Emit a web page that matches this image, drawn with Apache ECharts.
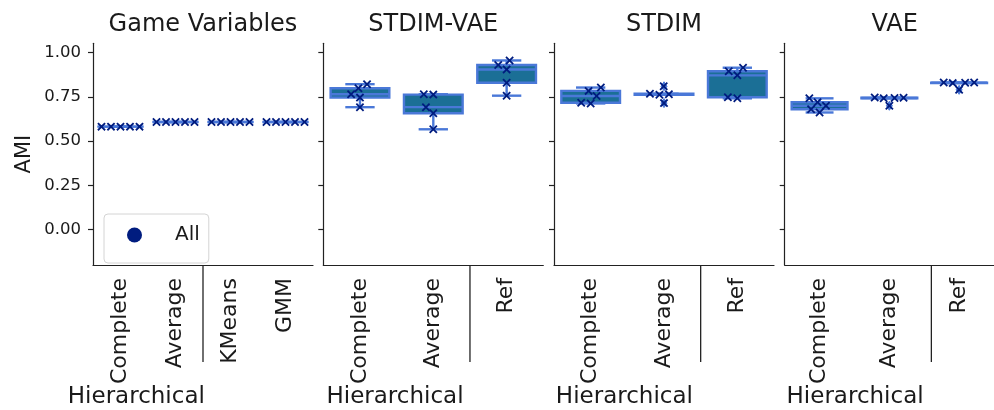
<!DOCTYPE html>
<html><head><meta charset="utf-8">
<script src="https://cdn.jsdelivr.net/npm/echarts@6/dist/echarts.min.js"></script>
<style>html,body{margin:0;padding:0;background:#fff}#c{width:994px;height:410px}</style>
</head><body><div id="c"></div>
<script>
// ---------------- data ----------------
const panelTitles = ['Game Variables', 'STDIM-VAE', 'STDIM', 'VAE'];
const catsGV = ['Complete', 'Average', 'KMeans', 'GMM'];
const catsRep = ['Complete', 'Average', 'Ref'];
const hierarchicalCount = 2;
const groupLabel = 'Hierarchical';
const yTicks = [0, 0.25, 0.5, 0.75, 1.0];
const seriesName = 'All';
const yAxisName = 'AMI';

// AMI values (5 seeds per method)
const gvComplete = [0.582, 0.582, 0.582, 0.582, 0.582];
const gvAverage  = [0.608, 0.608, 0.608, 0.608, 0.608];
const gvKMeans   = [0.608, 0.608, 0.608, 0.608, 0.608];
const gvGMM      = [0.608, 0.608, 0.608, 0.608, 0.608];

const svComplete = [0.692, 0.746, 0.765, 0.799, 0.822];
const svAverage  = [0.567, 0.658, 0.692, 0.763, 0.765];
const svRef      = [0.757, 0.830, 0.905, 0.930, 0.956];

const stComplete = [0.713, 0.717, 0.755, 0.784, 0.803];
const stAverage  = [0.715, 0.762, 0.765, 0.768, 0.810];
const stRef      = [0.742, 0.748, 0.872, 0.895, 0.915];

const vaComplete = [0.662, 0.680, 0.700, 0.720, 0.742];
const vaAverage  = [0.700, 0.742, 0.744, 0.745, 0.747];
const vaRef      = [0.790, 0.828, 0.830, 0.831, 0.832];

const panelCats = [catsGV, catsRep, catsRep, catsRep];
const panelValues = [
  [gvComplete, gvAverage, gvKMeans, gvGMM],
  [svComplete, svAverage, svRef],
  [stComplete, stAverage, stRef],
  [vaComplete, vaAverage, vaRef]
];

// ---------------- layout / style ----------------
const FONT = 'DejaVu Sans';
const TEXT = '#1a1a1a';
const AXIS = '#222';
const EDGE = '#4a78d8';
const FILL = '#1b6f96';
const MARK = '#001c7f';
const Y_MIN = -0.2, Y_MAX = 1.053;
const GRID_TOP = 43.3, GRID_H = 221.7, GRID_W = 220;
const GRID_LEFTS = [93, 323.3, 554, 784.7];
const groupLabelFrac = [0.197, 0.326, 0.32, 0.32];
const SWARM_D = 9.5;

function quantile(sorted, p) {
  const pos = (sorted.length - 1) * p;
  const lo = Math.floor(pos), hi = Math.ceil(pos);
  return sorted[lo] + (sorted[hi] - sorted[lo]) * (pos - lo);
}
function boxStats(vals) {
  const s = vals.slice().sort((a, b) => a - b);
  const q1 = quantile(s, 0.25), med = quantile(s, 0.5), q3 = quantile(s, 0.75);
  const iqr = q3 - q1;
  const inside = s.filter(v => v >= q1 - 1.5 * iqr - 1e-12 && v <= q3 + 1.5 * iqr + 1e-12);
  const wlo = Math.min(...inside), whi = Math.max(...inside);
  const fliers = s.filter(v => v < q1 - 1.5 * iqr - 1e-12 || v > q3 + 1.5 * iqr + 1e-12);
  return { q1, med, q3, wlo, whi, fliers };
}
function swarm(vals, pxPerY, d) {
  const idx = vals.map((v, k) => k).sort((a, b) => vals[a] - vals[b]);
  const placed = [], out = new Array(vals.length);
  for (const k of idx) {
    const y = vals[k] * pxPerY;
    const cands = [0];
    for (const p of placed) {
      const dy = Math.abs(p.y - y);
      if (dy < d) { const dx = Math.sqrt(d * d - dy * dy); cands.push(p.x - dx, p.x + dx); }
    }
    cands.sort((a, b) => (Math.abs(a) - Math.abs(b)) || (a - b));
    let x = 0;
    for (const c of cands) {
      if (placed.every(p => Math.hypot(p.x - c, p.y - y) >= d - 1e-6)) { x = c; break; }
    }
    placed.push({ x, y }); out[k] = x;
  }
  return out;
}

const CROSS = 'path://M0,1.5L1.5,0L5,3.5L8.5,0L10,1.5L6.5,5L10,8.5L8.5,10L5,6.5L1.5,10L0,8.5L3.5,5Z';

const grids = [], xAxes = [], yAxes = [], series = [], graphics = [];
const pxPerY = GRID_H / (Y_MAX - Y_MIN);

panelTitles.forEach((title, p) => {
  const cats = panelCats[p];
  const n = cats.length;
  const left = GRID_LEFTS[p];
  grids.push({ left: left, top: GRID_TOP, width: GRID_W, height: GRID_H, containLabel: false });
  xAxes.push({
    type: 'category', gridIndex: p, data: cats, boundaryGap: true, position: 'bottom',
    axisLine: { onZero: false, lineStyle: { color: AXIS, width: 1.2 } },
    axisTick: { alignWithLabel: true, length: 5, lineStyle: { color: AXIS, width: 1.2 } },
    axisLabel: { rotate: 90, fontSize: 22, fontFamily: FONT, color: TEXT, margin: 13, interval: 0 },
    splitLine: { show: false }
  });
  xAxes.push({ type: 'value', gridIndex: p, min: -0.5, max: n - 0.5, show: false });
  yAxes.push({
    type: 'value', gridIndex: p, min: Y_MIN, max: Y_MAX, position: 'left',
    name: p === 0 ? yAxisName : '', nameLocation: 'middle', nameGap: 58,
    nameTextStyle: { fontSize: 21, fontFamily: FONT, color: TEXT },
    axisLine: { show: true, onZero: false, lineStyle: { color: AXIS, width: 1.2 } },
    axisTick: { show: true, length: 5, customValues: yTicks, lineStyle: { color: AXIS, width: 1.2 } },
    axisLabel: { show: p === 0, customValues: yTicks, formatter: v => v.toFixed(2), fontSize: 16.5, fontFamily: FONT, color: TEXT, margin: 12 },
    splitLine: { show: false }
  });
  const vxi = p * 2 + 1;
  const boxData = panelValues[p].map((vals, i) => {
    const s = boxStats(vals);
    return [i, s.q1, s.med, s.q3, s.wlo, s.whi, s.fliers];
  });
  series.push({
    type: 'custom', xAxisIndex: vxi, yAxisIndex: p, z: 2, silent: true,
    data: boxData.map(d => d.slice(0, 6)),
    renderItem: function (params, api) {
      const i = api.value(0);
      const q1 = api.value(1), med = api.value(2), q3 = api.value(3), wlo = api.value(4), whi = api.value(5);
      const pL = api.coord([i - 0.4, q3]), pR = api.coord([i + 0.4, q1]);
      const cL = api.coord([i - 0.2, whi])[0], cR = api.coord([i + 0.2, whi])[0];
      const xc = api.coord([i, 0])[0];
      const yq1 = api.coord([i, q1])[1], yq3 = api.coord([i, q3])[1], ym = api.coord([i, med])[1];
      const ylo = api.coord([i, wlo])[1], yhi = api.coord([i, whi])[1];
      const ls = { stroke: EDGE, lineWidth: 2.4 };
      const children = [
        { type: 'line', shape: { x1: xc, y1: yq3, x2: xc, y2: yhi }, style: ls },
        { type: 'line', shape: { x1: xc, y1: yq1, x2: xc, y2: ylo }, style: ls },
        { type: 'line', shape: { x1: cL, y1: yhi, x2: cR, y2: yhi }, style: ls },
        { type: 'line', shape: { x1: cL, y1: ylo, x2: cR, y2: ylo }, style: ls },
        { type: 'rect', shape: { x: pL[0], y: yq3, width: pR[0] - pL[0], height: Math.max(yq1 - yq3, 0.01) }, style: { fill: FILL, stroke: EDGE, lineWidth: 2.4 } },
        { type: 'line', shape: { x1: pL[0], y1: ym, x2: pR[0], y2: ym }, style: ls }
      ];
      const fl = boxData[params.dataIndex][6];
      fl.forEach(v => {
        const c = api.coord([i, v]);
        children.push({ type: 'polygon', shape: { points: [[c[0], c[1] - 4.5], [c[0] + 3, c[1]], [c[0], c[1] + 4.5], [c[0] - 3, c[1]]] }, style: { fill: EDGE, stroke: EDGE, lineWidth: 1 } });
      });
      return { type: 'group', children: children };
    }
  });
  const catPx = GRID_W / n;
  const pts = [];
  panelValues[p].forEach((vals, i) => {
    const offs = swarm(vals, pxPerY, SWARM_D);
    vals.forEach((v, k) => pts.push([i + offs[k] / catPx, v]));
  });
  series.push({
    type: 'scatter', name: seriesName, xAxisIndex: vxi, yAxisIndex: p, z: 5,
    symbol: CROSS, symbolSize: 8.5, data: pts,
    itemStyle: { color: MARK, opacity: 1 }, silent: true
  });
  graphics.push({ type: 'text', x: left + GRID_W / 2, y: 25, style: { text: title, font: '24px "' + FONT + '"', fill: TEXT, textAlign: 'center', textVerticalAlign: 'middle' } });
  const catW = GRID_W / n;
  const sx = left + hierarchicalCount * catW;
  graphics.push({ type: 'line', shape: { x1: sx, y1: GRID_TOP + GRID_H, x2: sx, y2: GRID_TOP + GRID_H + 97 }, style: { stroke: AXIS, lineWidth: 1.3 } });
  graphics.push({ type: 'text', x: left + groupLabelFrac[p] * GRID_W, y: 397, style: { text: groupLabel, font: '23px "' + FONT + '"', fill: TEXT, textAlign: 'center', textVerticalAlign: 'middle' } });
});

const chart = echarts.init(document.getElementById('c'), null, { renderer: 'canvas' });
chart.setOption({
  animation: false,
  backgroundColor: '#fff',
  textStyle: { fontFamily: FONT },
  grid: grids, xAxis: xAxes, yAxis: yAxes, series: series,
  legend: {
    data: [{ name: seriesName, icon: 'circle' }],
    left: 104, top: 214, orient: 'vertical',
    padding: [11, 9, 18, 23],
    itemWidth: 15, itemHeight: 15, itemGap: 0,
    textStyle: { fontSize: 20, fontFamily: FONT, color: TEXT, padding: [0, 0, 0, 28] },
    borderColor: '#d4d4d4', borderWidth: 1, borderRadius: 4,
    backgroundColor: 'rgba(255,255,255,0.8)',
    selectedMode: false
  },
  graphic: graphics
});
</script></body></html>
